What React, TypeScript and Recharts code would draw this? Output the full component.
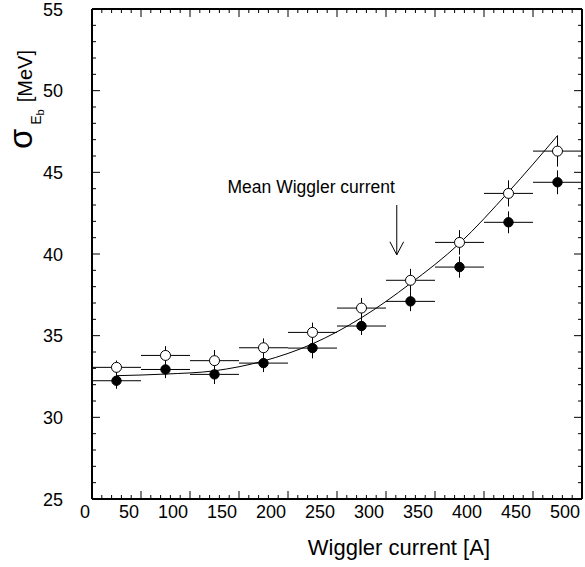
import {
  ComposedChart,
  XAxis,
  YAxis,
  Scatter,
  Line,
  ErrorBar,
  ReferenceLine,
  ReferenceDot,
} from "recharts";

// bin centres of the wiggler current scan [A], each bin +-25 A wide
const binCenters = [25, 75, 125, 175, 225, 275, 325, 375, 425, 475];
const binHalfWidth = [25, 25, 25, 25, 25, 25, 25, 25, 25, 25];

// open circles
const openSigma = [33.06, 33.79, 33.47, 34.26, 35.2, 36.69, 38.39, 40.71, 43.71, 46.3];
const openErr = [0.42, 0.57, 0.65, 0.57, 0.6, 0.62, 0.7, 0.75, 0.8, 0.95];

// filled circles
const filledSigma = [32.24, 32.93, 32.63, 33.32, 34.24, 35.59, 37.1, 39.2, 41.94, 44.39];
const filledErr = [0.49, 0.53, 0.59, 0.55, 0.63, 0.55, 0.6, 0.65, 0.67, 0.73];

// fitted curve
const fitCurrent = [25, 75, 125, 175, 225, 275, 325, 375, 425, 475];
const fitSigma = [32.55, 32.65, 32.85, 33.45, 34.5, 36.1, 38.2, 40.65, 43.8, 47.25];

const xMajor = [0, 50, 100, 150, 200, 250, 300, 350, 400, 450, 500];
const yMajor = [25, 30, 35, 40, 45, 50, 55];

// annotation (data units)
const arrowX = 311;
const arrowTop = 43.0;
const arrowTip = 39.95;
const arrowWing = 40.75;
const arrowHalfWidth = 7;
const noteText = "Mean Wiggler current";
const noteX = 309;
const noteY = 43.75;

const xTicks: number[] = [];
for (let v = xMajor[0]; v <= xMajor[xMajor.length - 1]; v += 10) xTicks.push(v);
const yTicks: number[] = [];
for (let v = yMajor[0]; v <= yMajor[yMajor.length - 1]; v += 1) yTicks.push(v);

const openData = binCenters.map((x, i) => ({ x, y: openSigma[i], ex: binHalfWidth[i], ey: openErr[i] }));
const filledData = binCenters.map((x, i) => ({ x, y: filledSigma[i], ex: binHalfWidth[i], ey: filledErr[i] }));
const fitData = fitCurrent.map((x, i) => ({ x, y: fitSigma[i] }));

const FONT = "'Liberation Sans', Arial, Helvetica, sans-serif";
const W = 585;
const H = 567;
const M = { top: 9, right: 3, bottom: 0, left: 0 };
const Y_AXIS_W = 92;
const X_AXIS_H = 68;
const PLOT_W = W - M.right - Y_AXIS_W;
const PLOT_H = H - M.top - X_AXIS_H;
const MAJOR = 8;
const MINOR = 4;

// bottom ticks also draw the mirrored ticks on the top frame
const BottomTick = (p: any) => {
  const v = p.payload.value;
  const len = v % 50 === 0 ? MAJOR : MINOR;
  const top = p.y - PLOT_H;
  return (
    <g>
      <line x1={p.x} x2={p.x} y1={p.y} y2={p.y - len} stroke="#000" />
      <line x1={p.x} x2={p.x} y1={top} y2={top + len} stroke="#000" />
      {v % 50 === 0 && (
        <text x={p.x - 2} y={p.y + 19} textAnchor="end" fontSize={18} fontFamily={FONT} fill="#000">
          {v}
        </text>
      )}
    </g>
  );
};

// left ticks also draw the mirrored ticks on the right frame
const LeftTick = (p: any) => {
  const v = p.payload.value;
  const len = v % 5 === 0 ? MAJOR : MINOR;
  const right = p.x + PLOT_W;
  return (
    <g>
      <line x1={p.x} x2={p.x + len} y1={p.y} y2={p.y} stroke="#000" />
      <line x1={right} x2={right - len} y1={p.y} y2={p.y} stroke="#000" />
      {v % 5 === 0 && (
        <text x={p.x - 29} y={p.y + 6.5} textAnchor="end" fontSize={18} fontFamily={FONT} fill="#000">
          {v}
        </text>
      )}
    </g>
  );
};

const OpenDot = (p: any) => <circle cx={p.cx} cy={p.cy} r={5} fill="#fff" stroke="#000" strokeWidth={1} />;
const FilledDot = (p: any) => <circle cx={p.cx} cy={p.cy} r={4.7} fill="#000" stroke="#000" />;

const XTitle = (p: any) => {
  const vb = p.viewBox;
  return (
    <text x={vb.x + vb.width - 92} y={vb.y + 56} textAnchor="end" fontSize={22} fontFamily={FONT} fill="#000">
      Wiggler current [A]
    </text>
  );
};

const YTitle = () => {
  const x = 32;
  const y = 50;
  return (
    <text
      x={x}
      y={y}
      transform={`rotate(-90, ${x}, ${y})`}
      textAnchor="end"
      fontFamily={FONT}
      fill="#000"
    >
      <tspan fontSize={33}>σ</tspan>
      <tspan fontSize={14} dy={9} dx={4}>E</tspan>
      <tspan fontSize={11} dy={3}>b</tspan>
      <tspan fontSize={20} dy={-12} dx={7}>[MeV]</tspan>
    </text>
  );
};

const Note = (p: any) => {
  const vb = p.viewBox;
  return (
    <text x={vb.x} y={vb.y} textAnchor="end" fontSize={17.5} fontFamily={FONT} fill="#000">
      {noteText}
    </text>
  );
};

export default function App() {
  return (
    <div style={{ position: "absolute", left: 0, top: 0, background: "#fff" }}>
      <ComposedChart width={W} height={H} margin={M}>
        <XAxis
          type="number"
          dataKey="x"
          domain={[0, 500]}
          ticks={xTicks}
          interval={0}
          height={X_AXIS_H}
          tickSize={0}
          tickMargin={0}
          tick={<BottomTick />}
          axisLine={{ stroke: "#000", strokeWidth: 2 }}
          allowDataOverflow
          label={(p: any) => <XTitle {...p} />}
        />
        <YAxis
          type="number"
          dataKey="y"
          domain={[25, 55]}
          ticks={yTicks}
          interval={0}
          width={Y_AXIS_W}
          tickSize={0}
          tickMargin={0}
          tick={<LeftTick />}
          axisLine={{ stroke: "#000", strokeWidth: 2 }}
          allowDataOverflow
          label={() => <YTitle />}
        />
        <ReferenceLine y={55} stroke="#000" strokeWidth={2} />
        <ReferenceLine x={500} stroke="#000" strokeWidth={2} />
        <Scatter data={filledData} shape={<FilledDot />} isAnimationActive={false}>
          <ErrorBar dataKey="ex" direction="x" width={0} stroke="#000" strokeWidth={1} isAnimationActive={false} />
          <ErrorBar dataKey="ey" direction="y" width={0} stroke="#000" strokeWidth={1} isAnimationActive={false} />
        </Scatter>
        <Scatter data={openData} shape={<OpenDot />} isAnimationActive={false}>
          <ErrorBar dataKey="ex" direction="x" width={0} stroke="#000" strokeWidth={1} isAnimationActive={false} />
          <ErrorBar dataKey="ey" direction="y" width={0} stroke="#000" strokeWidth={1} isAnimationActive={false} />
        </Scatter>
        <Line
          data={fitData}
          dataKey="y"
          type="monotone"
          stroke="#000"
          strokeWidth={1}
          dot={false}
          activeDot={false}
          isAnimationActive={false}
        />
        <ReferenceLine segment={[{ x: arrowX, y: arrowTop }, { x: arrowX, y: arrowTip }]} stroke="#000" />
        <ReferenceLine
          segment={[{ x: arrowX - arrowHalfWidth, y: arrowWing }, { x: arrowX, y: arrowTip }]}
          stroke="#000"
        />
        <ReferenceLine
          segment={[{ x: arrowX + arrowHalfWidth, y: arrowWing }, { x: arrowX, y: arrowTip }]}
          stroke="#000"
        />
        <ReferenceDot x={noteX} y={noteY} r={0} fill="none" stroke="none" label={(p: any) => <Note {...p} />} />
      </ComposedChart>
    </div>
  );
}
